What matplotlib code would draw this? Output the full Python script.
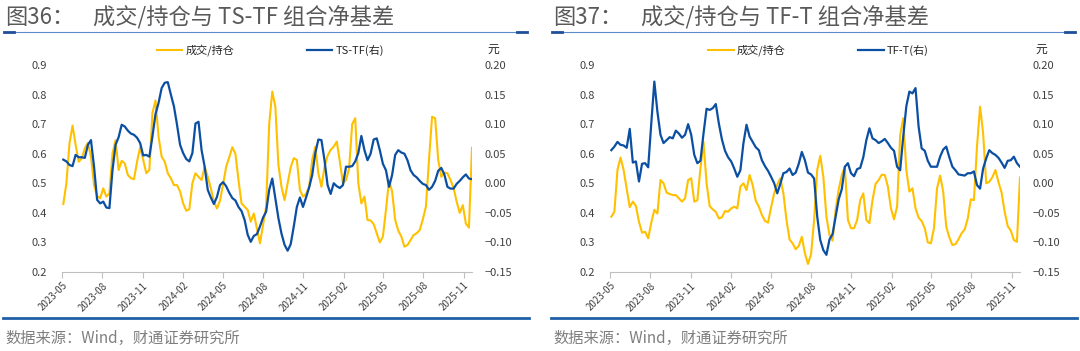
import matplotlib
matplotlib.use('Agg')
import matplotlib.pyplot as plt
import matplotlib.dates as mdates
import pandas as pd
from matplotlib.lines import Line2D
from matplotlib.ticker import FuncFormatter

plt.rcParams['font.family'] = ['Noto Sans CJK SC', 'DejaVu Sans']

# 周度数据 2023-05-04 ~ 2025-11-20
dates = pd.date_range('2023-05-04', periods=134, freq='7D')

# 图36 成交/持仓（左轴）
ts_ratio = [
    0.43, 0.50, 0.635, 0.695, 0.63, 0.573, 0.584, 0.618, 0.637, 0.59,
    0.494, 0.457, 0.449, 0.483, 0.455, 0.466, 0.60, 0.646, 0.545, 0.576,
    0.567, 0.528, 0.517, 0.514, 0.573, 0.622, 0.579, 0.534, 0.545, 0.737,
    0.78, 0.657, 0.59, 0.573, 0.534, 0.517, 0.494, 0.494, 0.472, 0.432,
    0.407, 0.412, 0.50, 0.534, 0.522, 0.511, 0.556, 0.522, 0.483, 0.438,
    0.415, 0.441, 0.497, 0.556, 0.588, 0.622, 0.60, 0.511, 0.432, 0.421,
    0.41, 0.37, 0.398, 0.348, 0.297, 0.359, 0.421, 0.70, 0.81, 0.759,
    0.562, 0.488, 0.443, 0.50, 0.554, 0.585, 0.579, 0.477, 0.455, 0.464,
    0.489, 0.579, 0.624, 0.534, 0.488, 0.556, 0.593, 0.613, 0.624, 0.641,
    0.573, 0.50, 0.511, 0.55, 0.70, 0.72, 0.50, 0.432, 0.455, 0.376,
    0.374, 0.362, 0.331, 0.30, 0.32, 0.41, 0.511, 0.472, 0.376, 0.34,
    0.32, 0.286, 0.291, 0.308, 0.325, 0.331, 0.342, 0.378, 0.421, 0.579,
    0.725, 0.72, 0.579, 0.522, 0.536, 0.534, 0.511, 0.485, 0.438, 0.40,
    0.426, 0.364, 0.35, 0.62,
]
# 图36 TS-TF 组合净基差（右轴，元）
ts_tf = [
    0.040, 0.037, 0.031, 0.029, 0.048, 0.044, 0.044, 0.043, 0.065, 0.073,
    0.028, -0.028, -0.034, -0.031, -0.041, -0.042, 0.022, 0.065, 0.078, 0.099,
    0.096, 0.089, 0.084, 0.082, 0.077, 0.068, 0.047, 0.048, 0.045, 0.079,
    0.117, 0.136, 0.161, 0.170, 0.171, 0.150, 0.130, 0.099, 0.065, 0.051,
    0.041, 0.037, 0.051, 0.101, 0.104, 0.056, 0.028, -0.011, -0.024, -0.035,
    -0.023, -0.003, 0.002, -0.005, -0.016, -0.025, -0.029, -0.040, -0.047, -0.062,
    -0.087, -0.099, -0.089, -0.086, -0.073, -0.058, -0.048, -0.011, 0.008, -0.026,
    -0.059, -0.085, -0.104, -0.114, -0.103, -0.073, -0.040, -0.024, -0.040, -0.024,
    -0.007, 0.014, 0.051, 0.074, 0.073, 0.039, -0.003, -0.018, 0.000, -0.005,
    -0.008, -0.003, 0.028, 0.028, 0.029, 0.037, 0.051, 0.080, 0.056, 0.039,
    0.050, 0.074, 0.076, 0.056, 0.033, 0.022, -0.006, 0.014, 0.048, 0.056,
    0.052, 0.050, 0.039, 0.022, 0.014, 0.010, 0.004, -0.001, -0.003, -0.011,
    -0.006, 0.004, 0.021, 0.026, 0.015, -0.006, -0.009, -0.009, -0.001, 0.004,
    0.010, 0.015, 0.008, 0.007,
]
# 图37 成交/持仓（左轴）
tf_ratio = [
    0.387, 0.404, 0.545, 0.587, 0.545, 0.483, 0.419, 0.438, 0.423, 0.37,
    0.333, 0.336, 0.314, 0.367, 0.41, 0.398, 0.511, 0.50, 0.468, 0.464,
    0.46, 0.46, 0.449, 0.438, 0.449, 0.511, 0.517, 0.438, 0.443, 0.55,
    0.64, 0.50, 0.423, 0.412, 0.403, 0.381, 0.385, 0.406, 0.404, 0.415,
    0.421, 0.415, 0.489, 0.50, 0.477, 0.528, 0.494, 0.441, 0.421, 0.393,
    0.373, 0.367, 0.419, 0.466, 0.495, 0.517, 0.466, 0.376, 0.31, 0.297,
    0.277, 0.288, 0.319, 0.263, 0.227, 0.26, 0.376, 0.545, 0.593, 0.522,
    0.387, 0.325, 0.306, 0.41, 0.479, 0.528, 0.556, 0.376, 0.348, 0.348,
    0.376, 0.443, 0.466, 0.376, 0.365, 0.443, 0.498, 0.511, 0.529, 0.528,
    0.489, 0.415, 0.378, 0.421, 0.663, 0.72, 0.545, 0.472, 0.483, 0.415,
    0.384, 0.372, 0.348, 0.30, 0.297, 0.348, 0.483, 0.526, 0.472, 0.353,
    0.317, 0.291, 0.294, 0.311, 0.331, 0.344, 0.381, 0.446, 0.443, 0.624,
    0.759, 0.669, 0.50, 0.505, 0.52, 0.545, 0.504, 0.469, 0.404, 0.355,
    0.34, 0.308, 0.302, 0.52,
]
# 图37 TF-T 组合净基差（右轴，元）
tf_t = [
    0.056, 0.062, 0.070, 0.065, 0.064, 0.060, 0.092, 0.035, 0.037, 0.003,
    0.033, 0.034, 0.027, 0.101, 0.172, 0.121, 0.082, 0.068, 0.073, 0.078,
    0.076, 0.089, 0.084, 0.077, 0.082, 0.100, 0.082, 0.048, 0.034, 0.038,
    0.084, 0.126, 0.124, 0.127, 0.134, 0.101, 0.074, 0.055, 0.044, 0.037,
    0.025, 0.011, 0.022, 0.068, 0.099, 0.079, 0.070, 0.061, 0.056, 0.039,
    0.029, 0.021, 0.011, 0.000, -0.017, -0.001, 0.017, 0.019, 0.025, 0.014,
    0.018, 0.033, 0.053, 0.039, 0.018, 0.015, 0.008, -0.056, -0.096, -0.113,
    -0.121, -0.095, -0.086, -0.056, -0.027, -0.010, 0.028, 0.034, 0.017, 0.012,
    0.024, 0.026, 0.044, 0.073, 0.093, 0.076, 0.073, 0.068, 0.071, 0.075,
    0.068, 0.060, 0.055, 0.028, 0.022, 0.079, 0.130, 0.155, 0.152, 0.161,
    0.096, 0.059, 0.055, 0.038, 0.028, 0.028, 0.028, 0.045, 0.057, 0.062,
    0.044, 0.028, 0.022, 0.015, 0.014, 0.013, 0.017, 0.017, 0.020, -0.003,
    -0.009, 0.025, 0.042, 0.056, 0.051, 0.048, 0.043, 0.035, 0.026, 0.038,
    0.039, 0.045, 0.034, 0.028,
]

left_ticks = [0.2, 0.3, 0.4, 0.5, 0.6, 0.7, 0.8, 0.9]
right_ticks = [-0.15, -0.10, -0.05, 0.00, 0.05, 0.10, 0.15, 0.20]

YELLOW = '#FFC000'
BLUE = '#0B4FA3'
W, H = 1080, 351

fig = plt.figure(figsize=(10.8, 3.51), dpi=100)


def fx(px):
    return px / W


def fy(py):
    return 1 - py / H


def draw_panel(x0, num, title, left_vals, right_vals, right_name):
    ax = fig.add_axes([fx(x0), fy(272), fx(410), 207 / H])
    l1, = ax.plot(dates, left_vals, color=YELLOW, lw=1.5)
    ax2 = ax.twinx()
    l2, = ax2.plot(dates, right_vals, color=BLUE, lw=1.6)

    ax.set_ylim(0.2, 0.9)
    ax2.set_ylim(-0.15, 0.20)
    ax.set_yticks(left_ticks)
    ax2.set_yticks(right_ticks)
    ax.yaxis.set_major_formatter(FuncFormatter(lambda v, p: f'{v:.1f}'))
    ax2.yaxis.set_major_formatter(
        FuncFormatter(lambda v, p: f'{v:.2f}'.replace('-', '\u2212')))
    ax.set_xlim(pd.Timestamp('2023-05-01'), dates[-1])

    for s in ['top', 'left', 'right']:
        ax.spines[s].set_visible(False)
    for s in ax2.spines.values():
        s.set_visible(False)
    ax.spines['bottom'].set_color('#bfbfbf')

    ax.tick_params(axis='y', length=0, pad=11, labelsize=8, labelcolor='#404040')
    ax2.tick_params(axis='y', length=0, pad=9, labelsize=8, labelcolor='#404040')
    ax.xaxis.set_major_locator(mdates.MonthLocator(bymonth=[2, 5, 8, 11]))
    ax.xaxis.set_major_formatter(mdates.DateFormatter('%Y-%m'))
    ax.tick_params(axis='x', length=4, color='#bfbfbf', labelsize=7,
                   labelcolor='#404040', pad=2)
    for lab in ax.get_xticklabels():
        lab.set_rotation(45)
        lab.set_ha('right')
        lab.set_rotation_mode('anchor')

    ax2.legend([l1, l2], ['成交/持仓', right_name], loc='center',
               bbox_to_anchor=(0.5085, 1.07), ncol=2, frameon=False,
               fontsize=8, handlelength=2.3, columnspacing=6.5,
               handletextpad=0.3, labelcolor='#262626')
    ax2.text(1.052, 1.075, '元', transform=ax2.transAxes, ha='center',
             va='center', fontsize=8.5, color='#262626')

    # 标题
    tx = x0 - 57
    fig.text(fx(tx), fy(18), num, fontsize=16, color='#595959', va='center')
    fig.text(fx(tx + 88), fy(18), title, fontsize=16, color='#595959',
             va='center')
    # 标题下方细线
    fig.add_artist(Line2D([fx(tx - 1), fx(tx + 522)], [fy(32), fy(32)],
                          color='#5b8bc9', lw=0.8))
    fig.add_artist(Line2D([fx(tx - 1), fx(tx + 9)], [fy(32), fy(32)],
                          color='#1f4e9a', lw=2))
    fig.add_artist(Line2D([fx(tx + 512), fx(tx + 522)], [fy(32), fy(32)],
                          color='#1f4e9a', lw=2))
    # 底部粗线与数据来源
    fig.add_artist(Line2D([fx(tx - 2), fx(tx + 524)], [fy(318), fy(318)],
                          color='#1f5fa8', lw=2))
    fig.text(fx(tx), fy(338), '数据来源：Wind，财通证券研究所', fontsize=11,
             color='#7f7f7f', va='center')


draw_panel(62, '图36：', '成交/持仓与 TS-TF 组合净基差', ts_ratio, ts_tf, 'TS-TF(右)')
draw_panel(610, '图37：', '成交/持仓与 TF-T 组合净基差', tf_ratio, tf_t, 'TF-T(右)')

fig.savefig('out.png', dpi=100)
